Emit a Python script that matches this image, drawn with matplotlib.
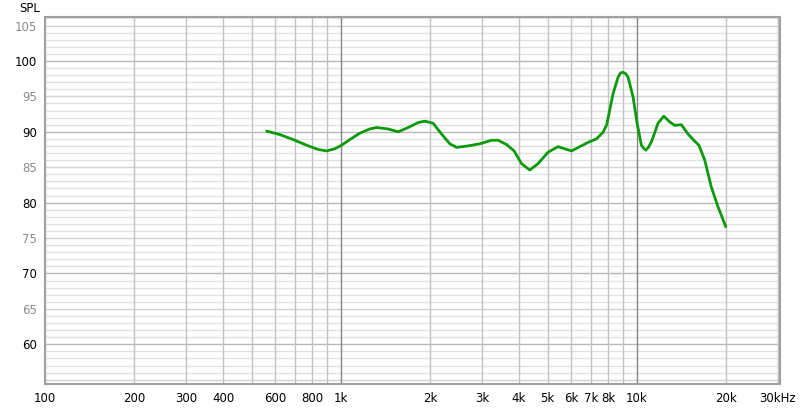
import numpy as np
import matplotlib.pyplot as plt

# frequency response (Hz, dB SPL)
freq = [561, 622, 690, 766, 838, 895, 955, 1005, 1072, 1159, 1253, 1320,
        1442, 1562, 1688, 1824, 1922, 2050, 2188, 2335, 2460, 2690, 2950,
        3230, 3400, 3630, 3850, 4080, 4350, 4640, 5010, 5420, 5710, 6020,
        6420, 6850, 7310, 7690, 7920, 8320, 8650, 8810, 8990, 9180, 9350,
        9720, 10030, 10370, 10540, 10720, 10950, 11220, 11800, 12340, 12920,
        13440, 14160, 14900, 15590, 16230, 16980, 17870, 18830, 20000]
spl = [90.1, 89.6, 88.9, 88.1, 87.5, 87.3, 87.6, 88.1, 88.9, 89.8, 90.4, 90.6,
       90.4, 90.0, 90.6, 91.3, 91.5, 91.2, 89.7, 88.3, 87.8, 88.0, 88.3,
       88.8, 88.8, 88.2, 87.3, 85.5, 84.6, 85.5, 87.1, 87.9, 87.6, 87.3,
       87.9, 88.5, 89.0, 89.9, 91.0, 95.4, 97.7, 98.3, 98.4, 98.2, 97.7,
       94.9, 91.2, 88.1, 87.7, 87.4, 87.8, 88.6, 91.2, 92.2, 91.4,
       90.9, 91.0, 89.7, 88.8, 88.1, 86.0, 82.2, 79.4, 76.6]

x_ticks = [100, 200, 300, 400, 600, 800, 1000, 2000, 3000, 4000, 5000,
           6000, 7000, 8000, 10000, 20000, 30000]
x_labels = ['100', '200', '300', '400', '600', '800', '1k', '2k', '3k', '4k',
            '5k', '6k', '7k', '8k', '10k', '20k', '30kHz']
y_ticks = [60, 65, 70, 75, 80, 85, 90, 95, 100, 105]


def main():
    plt.rcParams['font.family'] = ['DejaVu Sans']
    fig = plt.figure(figsize=(8, 4.08), dpi=100)
    ax = fig.add_axes([45/800, 1 - 384/408, 735/800, 367/408])
    ax.set_xscale('log')
    ax.set_xlim(100, 30500)
    ax.set_ylim(54.4, 106.2)

    # grid
    for d in [100, 1000, 10000]:
        for m in range(1, 10):
            f = d * m
            if f > 30000:
                break
            col = '#858585' if m == 1 and d > 100 else '#c2c2c2'
            ax.axvline(f, color=col, lw=1, zorder=1)
    ax.axvline(30000, color='#c2c2c2', lw=1, zorder=1)
    for v in range(55, 107):
        if v % 10 == 0:
            col = '#b8b8b8'
        elif v % 5 == 0:
            col = '#d2d2d2'
        else:
            col = '#e2e2e2'
        ax.axhline(v, color=col, lw=1, zorder=0)

    ax.plot(freq, spl, color='#0b9a0b', lw=2, zorder=3,
            solid_joinstyle='round', solid_capstyle='round')

    ax.set_xticks(x_ticks, x_labels)
    ax.xaxis.set_minor_locator(plt.NullLocator())
    ax.set_yticks(y_ticks, [str(v) for v in y_ticks])
    ax.tick_params(length=0, labelsize=8.5, pad=6)
    for lab, v in zip(ax.get_yticklabels(), y_ticks):
        lab.set_color('black' if v % 10 == 0 else '#8a8a8a')

    for s in ax.spines.values():
        s.set_color('#a0a0a0')
        s.set_linewidth(1.5)

    fig.text(30/800, 1 - 8/408, 'SPL', ha='center', va='center', fontsize=8.5)
    fig.savefig('out.png', dpi=100)


if __name__ == '__main__':
    main()
